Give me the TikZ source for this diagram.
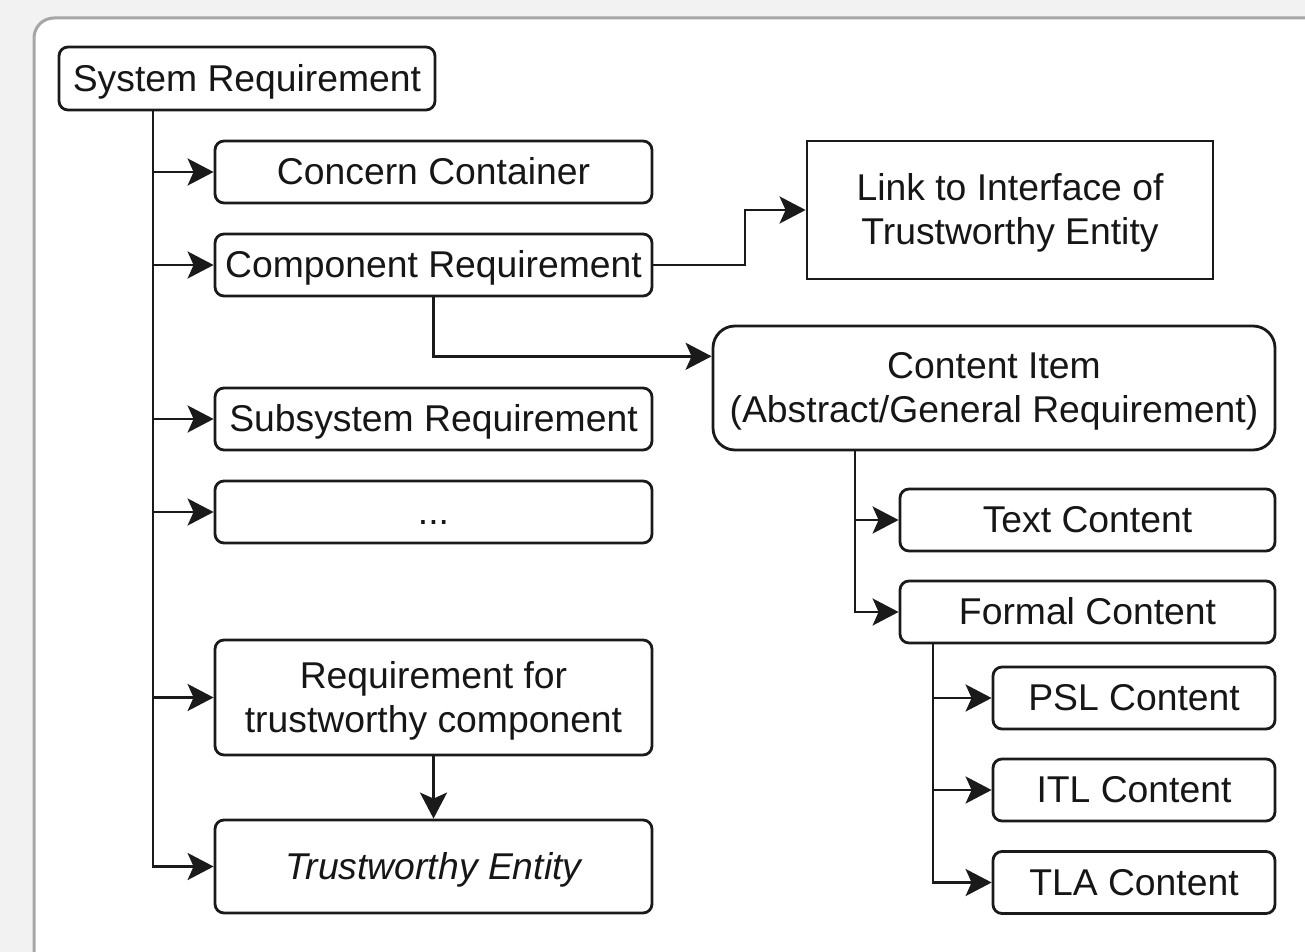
\documentclass[tikz,border=0pt]{standalone}
\usepackage{fontspec}
\setmainfont{Liberation Sans}
\usetikzlibrary{arrows.meta,calc}
\definecolor{bgc}{HTML}{F2F2F2}
\definecolor{panelc}{HTML}{A6A6A6}
\definecolor{linec}{HTML}{1A1A1A}
\definecolor{textc}{HTML}{161616}
\newcommand\tstr{\rule{0pt}{0.905em}}
\newcommand\bstr{\rule[-0.212em]{0pt}{0.212em}}
\tikzset{
  bx/.style={draw=linec, line width=2.8pt, rounded corners=9pt, fill=white, inner sep=0pt,
    minimum height=62pt, text=textc, align=center, font=\fontsize{37.3}{44}\selectfont},
  sqbx/.style={bx, rounded corners=0pt},
  conn/.style={draw=linec, line width=2.8pt},
  arr/.style={conn, -{Stealth[length=26pt,width=27pt,inset=6pt,fill=linec]}}
}
\begin{document}
\begin{tikzpicture}[x=1pt,y=-1pt]
\useasboundingbox (0,0) rectangle (1305,952);
\fill[bgc] (0,0) rectangle (1305,952);
\begin{scope}
\clip (0,0) rectangle (1305,952);
\draw[panelc, line width=3pt, fill=white, rounded corners=20pt] (34,18) rectangle (1340,985);
\end{scope}

% left column
\node[bx, minimum width=376pt, minimum height=63pt] (sr) at (247,78.5) {\tstr System Requirement\bstr};
\node[bx, minimum width=437pt] (cc) at (433.5,172) {\tstr Concern Container\bstr};
\node[bx, minimum width=437pt] (cr) at (433.5,265) {\tstr Component Requirement\bstr};
\node[bx, minimum width=437pt] (ssr) at (433.5,419) {\tstr Subsystem Requirement\bstr};
\node[bx, minimum width=437pt] (dots) at (433.5,512) {\tstr ...\bstr};
\node[bx, minimum width=437pt, minimum height=115pt] (rtc) at (433.5,697.5) {\tstr Requirement for\\trustworthy component\bstr};
\node[bx, minimum width=437pt, minimum height=93pt] (te) at (433.5,866.5) {\tstr\itshape Trustworthy Entity\bstr};

% right column
\node[sqbx, minimum width=406pt, minimum height=138pt] (link) at (1010,210) {\tstr Link to Interface of\\Trustworthy Entity\bstr};
\node[bx, rounded corners=22pt, minimum width=562pt, minimum height=124pt] (ci) at (994,388) {\tstr Content Item\\(Abstract/General Requirement)\bstr};
\node[bx, minimum width=375pt] (tc) at (1087.5,520) {\tstr Text Content\bstr};
\node[bx, minimum width=375pt] (fc) at (1087.5,612) {\tstr Formal Content\bstr};
\node[bx, minimum width=282pt] (psl) at (1134,698) {\tstr PSL Content\bstr};
\node[bx, minimum width=282pt] (itl) at (1134,790) {\tstr ITL Content\bstr};
\node[bx, minimum width=282pt] (tla) at (1134,882.5) {\tstr TLA Content\bstr};

% trunk positions
\coordinate (t1) at (153,0);
\coordinate (t2) at (855,0);
\coordinate (t3) at (933,0);
\coordinate (e1) at (745,0);

% connectors
\draw[arr] (sr.south -| t1) |- (cc.west);
\draw[arr] (sr.south -| t1) |- (cr.west);
\draw[arr] (sr.south -| t1) |- (ssr.west);
\draw[arr] (sr.south -| t1) |- (dots.west);
\draw[arr] (sr.south -| t1) |- (rtc.west);
\draw[arr] (sr.south -| t1) |- (te.west);

\draw[arr] (cr.east) -- (cr.east -| e1) |- (link.west);
\coordinate (ciin) at ($(ci.north west)!0.25!(ci.south west)$);
\draw[arr] (cr.south) |- (ciin);
\draw[arr] (rtc.south) -- (te.north);

\draw[arr] (ci.south -| t2) |- (tc.west);
\draw[arr] (ci.south -| t2) |- (fc.west);

\draw[arr] (fc.south -| t3) |- (psl.west);
\draw[arr] (fc.south -| t3) |- (itl.west);
\draw[arr] (fc.south -| t3) |- (tla.west);
\end{tikzpicture}
\end{document}
